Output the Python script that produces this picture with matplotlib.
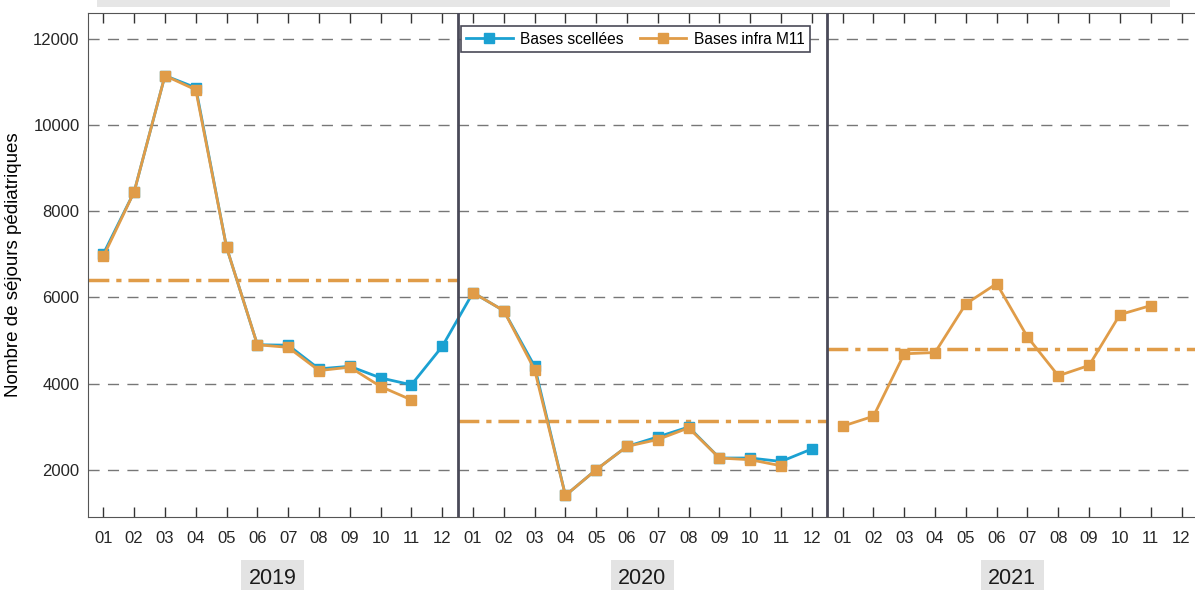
import numpy as np
import matplotlib.pyplot as plt
from matplotlib.patches import Rectangle
from matplotlib.transforms import blended_transform_factory

plt.rcParams['font.family'] = ['Liberation Sans', 'DejaVu Sans']

# data
years = ['2019', '2020', '2021']
months = ['01', '02', '03', '04', '05', '06', '07', '08', '09', '10', '11', '12']
nan = np.nan

sealed_2019 = [7010, 8450, 11150, 10870, 7160, 4900, 4890, 4340, 4400, 4130, 3970, 4860]
sealed_2020 = [6110, 5690, 4400, 1400, 2000, 2540, 2760, 2990, 2270, 2270, 2190, 2480]
sealed_2021 = [nan] * 12

infra_2019 = [6950, 8450, 11150, 10820, 7160, 4900, 4840, 4300, 4380, 3930, 3620, nan]
infra_2020 = [6110, 5690, 4320, 1400, 2000, 2540, 2700, 2970, 2270, 2230, 2090, nan]
infra_2021 = [3010, 3240, 4690, 4720, 5850, 6320, 5080, 4180, 4420, 5600, 5810, nan]

sealed = np.array(sealed_2019 + sealed_2020 + sealed_2021, dtype=float)
infra = np.array(infra_2019 + infra_2020 + infra_2021, dtype=float)
x = np.arange(len(infra))

blue = '#1ba1d2'
orange = '#e09c48'
dark = '#4a4a58'

fig = plt.figure(figsize=(11.95, 5.9), dpi=100)
ax = fig.add_axes([0.0736, 0.1237, 0.928, 0.854])

ax.plot(x, sealed, color=blue, lw=2, marker='s', ms=7, label='Bases scellées', zorder=3)
ax.plot(x, infra, color=orange, lw=2, marker='s', ms=7, label='Bases infra M11', zorder=4)

# yearly averages of the infra series
for i, yr in enumerate(years):
    seg = infra[i * 12:(i + 1) * 12]
    ax.hlines(np.nanmean(seg), i * 12 - 0.5, i * 12 + 11.5, color=orange, lw=2.5,
              linestyles=(0, (6, 2, 1.5, 2)), zorder=2)

# year separators
for b in [11.5, 23.5]:
    ax.axvline(b, color=dark, lw=2, zorder=5)

ax.set_xlim(-0.5, 35.5)
ax.set_ylim(900, 12600)
ax.set_yticks([2000, 4000, 6000, 8000, 10000, 12000])
ax.set_xticks(x)
ax.set_xticklabels(months * 3)
ax.tick_params(axis='x', direction='in', top=True, length=7, width=1, color='#333333',
               labelsize=12, labelcolor='#262626', pad=10)
ax.tick_params(axis='y', length=0, labelsize=12, labelcolor='#262626', pad=6)
ax.grid(axis='y', color='#777777', ls=(0, (8, 6)), lw=1)
for s in ax.spines.values():
    s.set_color('#555555')
ax.set_ylabel('Nombre de séjours pédiatriques', fontsize=13.5, labelpad=8)

# year labels under the axis
trans = blended_transform_factory(ax.transData, ax.transAxes)
for i, yr in enumerate(years):
    ax.text(i * 12 + 5.5, -0.122, yr, transform=trans, ha='center', va='center', fontsize=15.5,
            color='#1a1a1a', bbox=dict(facecolor='#e3e3e3', edgecolor='none', pad=5.5))

leg = ax.legend(loc='upper left', bbox_to_anchor=(0.336, 0.974), ncol=2, fontsize=11.2,
                frameon=True, fancybox=False, edgecolor=dark, framealpha=1,
                handlelength=3.0, columnspacing=1.0, borderpad=0.35, handletextpad=0.5,
                borderaxespad=0)
leg.get_frame().set_linewidth(1.2)
leg.set_zorder(6)

# cut-off title band at the top
fig.patches.append(Rectangle((97 / 1195, 583 / 590), (1170 - 97) / 1195, 7 / 590,
                             transform=fig.transFigure, facecolor='#e6e6e6', edgecolor='none'))

fig.savefig('out.png', dpi=100)
